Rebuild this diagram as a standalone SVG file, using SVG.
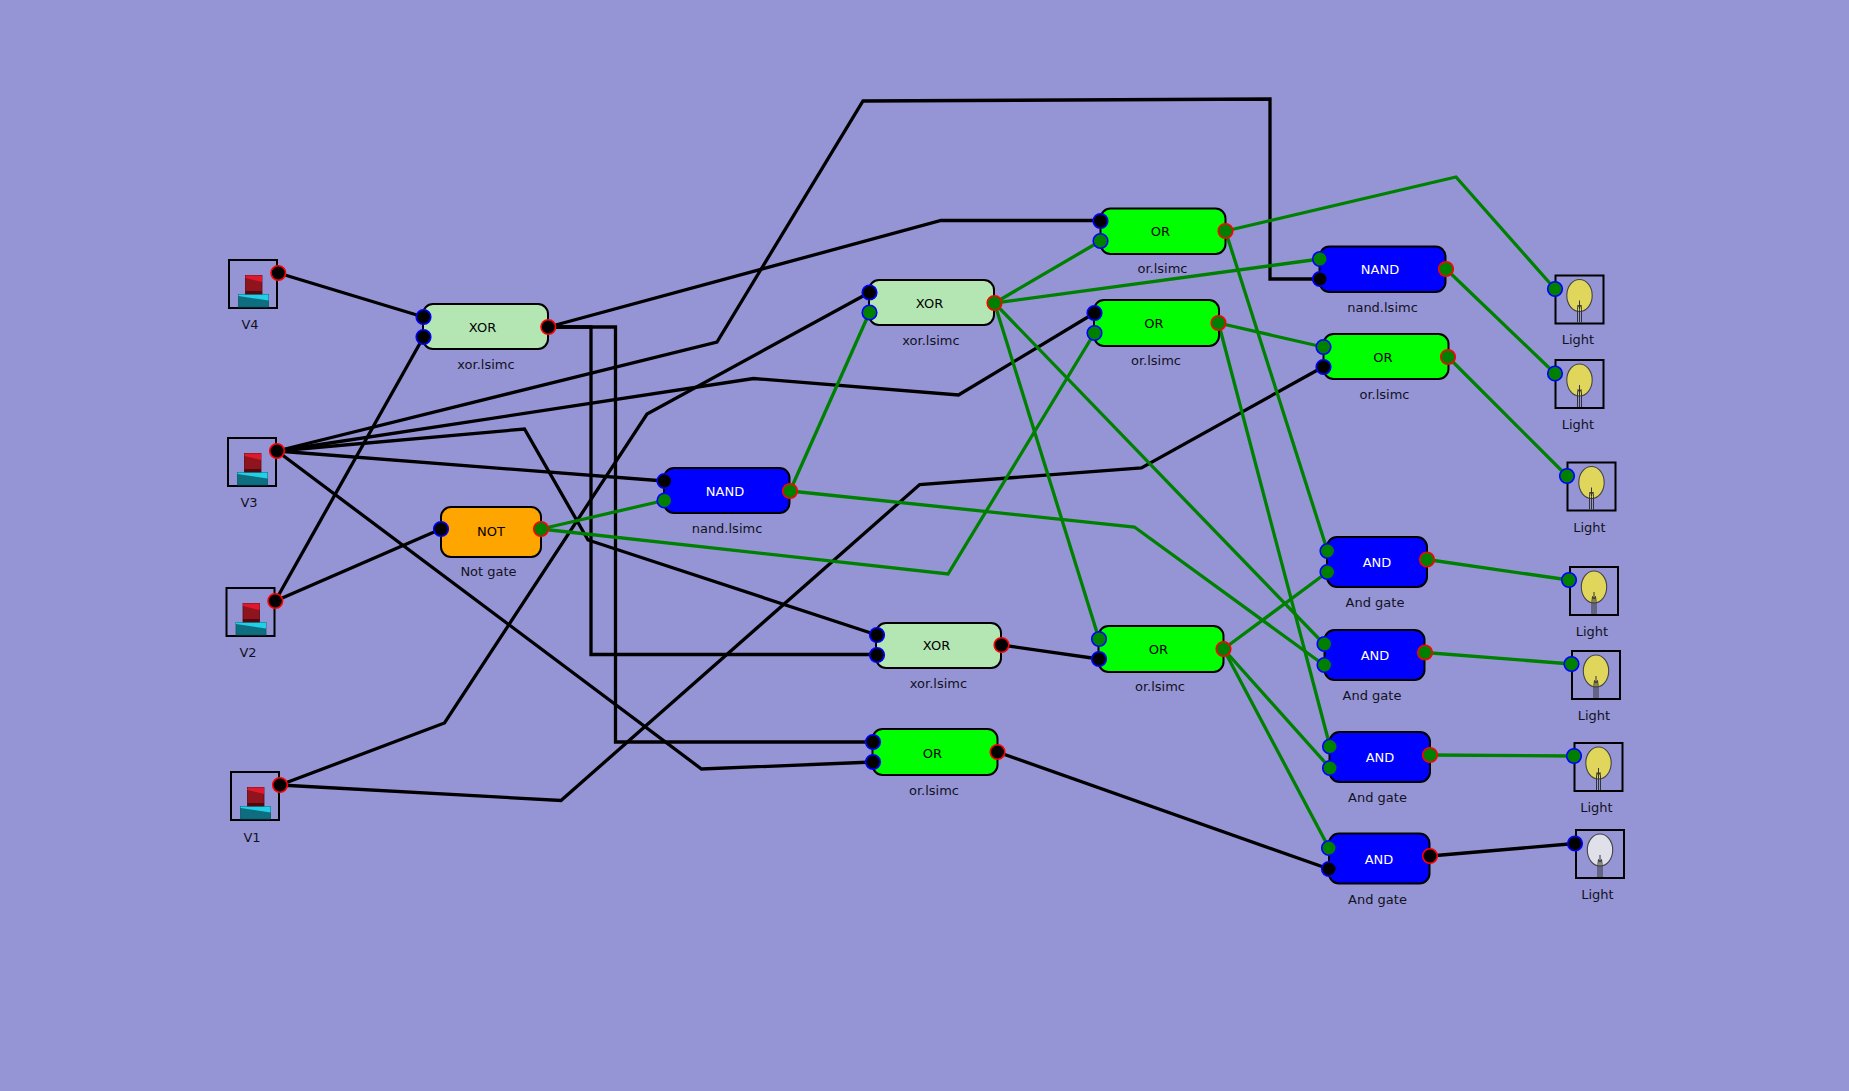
<svg xmlns="http://www.w3.org/2000/svg" width="1849" height="1091" viewBox="0 0 1849 1091">
<style>
text{font-family:"DejaVu Sans",sans-serif;font-size:13px;fill:#111122;text-anchor:middle}
.t{fill:#000}
.w{fill:#fff}
.wire{fill:none;stroke-width:3.3;stroke-linejoin:miter}
.b{stroke:#000}
.g{stroke:#008000}
.box{fill:none;stroke:#000;stroke-width:2}
.body{stroke:#000;stroke-width:2}
.pi{stroke:#0000ff;stroke-width:1.6}
.po{stroke:#ff0000;stroke-width:1.6}
.k{fill:#000}
.v{fill:#008000}
</style>
<defs>
<g id="src">
<rect class="box" x="0" y="0" width="48" height="48"/>
<rect x="9.5" y="34.5" width="30" height="12.5" fill="#0e6e80" stroke="#0a5a68" stroke-width="0.8"/>
<path d="M9.500 34.500H39.500V40.500L9.500 36Z" fill="#1fd0e8"/>
<rect x="16.500" y="15.500" width="16.500" height="18.500" fill="#8f141e" stroke="#5a0a10" stroke-width="0.8"/>
<path d="M16.500 15.500H33V22L16.500 18Z" fill="#e0182c"/>
<rect x="16.500" y="31" width="16.500" height="3" fill="#4a0a10"/>
</g>
<g id="bulbOn">
<rect class="box" x="0" y="0" width="48" height="48"/>
<ellipse cx="24" cy="20" rx="12.700" ry="16" fill="#e0d65c" stroke="#444" stroke-width="1.100"/>
<path d="M22 47V34M24 47V34M26 47V34M24 25V34M22 34L22.500 29.500L24 32L25.500 29.500L26 34" fill="none" stroke="#333" stroke-width="1"/>
</g>
<g id="bulbOff">
<rect class="box" x="0" y="0" width="48" height="48"/>
<ellipse cx="24" cy="20" rx="12.700" ry="16" fill="#e0e0ea" stroke="#444" stroke-width="1.100"/>
<path d="M22 47V34M24 47V34M26 47V34M24 25V34M22 34L22.500 29.500L24 32L25.500 29.500L26 34" fill="none" stroke="#333" stroke-width="1"/>
</g>
</defs>
<rect width="1849" height="1091" fill="#9595d5"/>
<g id="connectors">
<g class="wire b">
<path d="M278.300 273L423.500 317"/>
<path d="M275.300 601L423.500 337"/>
<path d="M275.300 601L441 529"/>
<path d="M277 451L664 481"/>
<path d="M277 451L524.500 429L588 540L877 635"/>
<path d="M277 451L701.500 769L873 762"/>
<path d="M277 451L717 342L863 101L1270 99V279H1320"/>
<path d="M277 451L753.500 378.500L958.500 395L1094.500 313"/>
<path d="M280 785L444.500 723L647 414L869.500 292.500"/>
<path d="M280 785L561 800.500L919.700 484.600L1141.400 468L1323 367"/>
<path d="M548.300 327L941 220.500H1100.500"/>
<path d="M548.300 327H591V654.500H877"/>
<path d="M548.300 327H615.500V742H873"/>
<path d="M1001.500 645L1099 659"/>
<path d="M997.500 752L1329 869"/>
<path d="M1430 856L1575 843.500"/>
</g>
<g class="wire g">
<path d="M541 529L664 500.500"/>
<path d="M541 529L948 574L1094.500 333"/>
<path d="M790 491L869.500 312.500"/>
<path d="M790 491L1134.400 527L1324 665"/>
<path d="M994.500 303L1100.500 241"/>
<path d="M994.500 303L1320 259"/>
<path d="M994.500 303L1099 639"/>
<path d="M994.500 303L1324 644"/>
<path d="M1225.500 231L1456 177L1555 289"/>
<path d="M1225.500 231L1327.500 551"/>
<path d="M1218.500 323L1323 347"/>
<path d="M1218.500 323L1330 746.500"/>
<path d="M1223.500 649L1327.500 572"/>
<path d="M1223.500 649L1330 768"/>
<path d="M1223.500 649L1329 848"/>
<path d="M1446 269L1555 373.500"/>
<path d="M1448 357L1567 476"/>
<path d="M1427 559.500L1569 580"/>
<path d="M1425 652.500L1571.500 664"/>
<path d="M1430 755L1574 756"/>
</g>
</g>
<g id="v4"><use href="#src" x="229" y="260"/><circle class="po k" cx="278.300" cy="273" r="7.300"/><text x="250" y="329">V4</text></g>
<g id="v3"><use href="#src" x="228" y="438"/><circle class="po k" cx="277" cy="451" r="7.300"/><text x="249" y="507">V3</text></g>
<g id="v2"><use href="#src" x="226.500" y="588"/><circle class="po k" cx="275.300" cy="601" r="7.300"/><text x="248" y="657">V2</text></g>
<g id="v1"><use href="#src" x="231" y="772"/><circle class="po k" cx="280" cy="785" r="7.300"/><text x="252" y="842">V1</text></g>
<g id="xor1"><rect class="body" x="423" y="304" width="125" height="45" rx="10" fill="#b4e6b4"/><circle class="pi k" cx="423.500" cy="317" r="7.300"/><circle class="pi k" cx="423.500" cy="337" r="7.300"/><circle class="po k" cx="548.300" cy="327" r="7.300"/><text class="t" x="482.500" y="332">XOR</text><text x="486" y="369">xor.lsimc</text></g>
<g id="not1"><rect class="body" x="441" y="507" width="100" height="50" rx="10" fill="#ffa500"/><circle class="pi k" cx="441" cy="529" r="7.300"/><circle class="po v" cx="541" cy="529" r="7.300"/><text class="t" x="491" y="536">NOT</text><text x="488.500" y="576">Not gate</text></g>
<g id="nand1"><rect class="body" x="664" y="468" width="125.500" height="45" rx="10" fill="#0000ff"/><circle class="pi k" cx="664.500" cy="481" r="7.300"/><circle class="pi v" cx="664.500" cy="500.500" r="7.300"/><circle class="po v" cx="790" cy="491" r="7.300"/><text class="t w" x="725" y="496">NAND</text><text x="727" y="533">nand.lsimc</text></g>
<g id="xor2"><rect class="body" x="869" y="280" width="125" height="45" rx="10" fill="#b4e6b4"/><circle class="pi k" cx="869.500" cy="292.500" r="7.300"/><circle class="pi v" cx="869.500" cy="312.500" r="7.300"/><circle class="po v" cx="994.500" cy="303" r="7.300"/><text class="t" x="929.500" y="308">XOR</text><text x="931" y="345">xor.lsimc</text></g>
<g id="xor3"><rect class="body" x="876" y="623" width="125" height="45" rx="10" fill="#b4e6b4"/><circle class="pi k" cx="877" cy="635" r="7.300"/><circle class="pi k" cx="877" cy="655" r="7.300"/><circle class="po k" cx="1001.500" cy="645" r="7.300"/><text class="t" x="936.500" y="650">XOR</text><text x="938.500" y="688">xor.lsimc</text></g>
<g id="or5"><rect class="body" x="872.500" y="729" width="125" height="46" rx="10" fill="#00ff00"/><circle class="pi k" cx="873" cy="742" r="7.300"/><circle class="pi k" cx="873" cy="762" r="7.300"/><circle class="po k" cx="997.500" cy="752" r="7.300"/><text class="t" x="932.500" y="758">OR</text><text x="934" y="795">or.lsimc</text></g>
<g id="or1"><rect class="body" x="1100.500" y="208.500" width="125" height="45.500" rx="10" fill="#00ff00"/><circle class="pi k" cx="1100.500" cy="221" r="7.300"/><circle class="pi v" cx="1100.500" cy="241" r="7.300"/><circle class="po v" cx="1225.500" cy="231" r="7.300"/><text class="t" x="1160.500" y="236">OR</text><text x="1162.500" y="273">or.lsimc</text></g>
<g id="or2"><rect class="body" x="1094" y="300" width="125" height="46" rx="10" fill="#00ff00"/><circle class="pi k" cx="1094.500" cy="313" r="7.300"/><circle class="pi v" cx="1094.500" cy="333" r="7.300"/><circle class="po v" cx="1218.500" cy="323" r="7.300"/><text class="t" x="1154" y="328">OR</text><text x="1156" y="365">or.lsimc</text></g>
<g id="or3"><rect class="body" x="1098.500" y="626" width="125" height="46" rx="10" fill="#00ff00"/><circle class="pi v" cx="1099" cy="639" r="7.300"/><circle class="pi k" cx="1099" cy="659" r="7.300"/><circle class="po v" cx="1223.500" cy="649" r="7.300"/><text class="t" x="1158.500" y="654">OR</text><text x="1160" y="691">or.lsimc</text></g>
<g id="nand2"><rect class="body" x="1319.500" y="246.500" width="126" height="45.500" rx="10" fill="#0000ff"/><circle class="pi v" cx="1320" cy="259" r="7.300"/><circle class="pi k" cx="1320" cy="279" r="7.300"/><circle class="po v" cx="1446" cy="269" r="7.300"/><text class="t w" x="1380" y="274">NAND</text><text x="1382.500" y="312">nand.lsimc</text></g>
<g id="or4"><rect class="body" x="1323.500" y="334" width="125" height="45" rx="10" fill="#00ff00"/><circle class="pi v" cx="1323.500" cy="347" r="7.300"/><circle class="pi k" cx="1323.500" cy="367" r="7.300"/><circle class="po v" cx="1448" cy="357" r="7.300"/><text class="t" x="1383" y="362">OR</text><text x="1384.500" y="399">or.lsimc</text></g>
<g id="and1"><rect class="body" x="1327" y="537" width="100" height="50" rx="10" fill="#0000ff"/><circle class="pi v" cx="1327.500" cy="551" r="7.300"/><circle class="pi v" cx="1327.500" cy="572" r="7.300"/><circle class="po v" cx="1427" cy="559.500" r="7.300"/><text class="t w" x="1377" y="567">AND</text><text x="1375" y="607">And gate</text></g>
<g id="and2"><rect class="body" x="1324.500" y="630" width="100" height="50" rx="10" fill="#0000ff"/><circle class="pi v" cx="1324.500" cy="644" r="7.300"/><circle class="pi v" cx="1324.500" cy="665" r="7.300"/><circle class="po v" cx="1425" cy="652.500" r="7.300"/><text class="t w" x="1375" y="660">AND</text><text x="1372" y="700">And gate</text></g>
<g id="and3"><rect class="body" x="1329.500" y="732" width="100.500" height="50" rx="10" fill="#0000ff"/><circle class="pi v" cx="1330" cy="746.500" r="7.300"/><circle class="pi v" cx="1330" cy="768" r="7.300"/><circle class="po v" cx="1430" cy="755" r="7.300"/><text class="t w" x="1380" y="762">AND</text><text x="1377.500" y="802">And gate</text></g>
<g id="and4"><rect class="body" x="1329" y="833.500" width="100.500" height="50" rx="10" fill="#0000ff"/><circle class="pi v" cx="1329" cy="848" r="7.300"/><circle class="pi k" cx="1329" cy="869" r="7.300"/><circle class="po k" cx="1430" cy="856" r="7.300"/><text class="t w" x="1379" y="864">AND</text><text x="1377.500" y="904">And gate</text></g>
<g id="light1"><use href="#bulbOn" x="1555.500" y="275.500"/><circle class="pi v" cx="1555" cy="289" r="7.300"/><text x="1578" y="344">Light</text></g>
<g id="light2"><use href="#bulbOn" x="1555.500" y="360"/><circle class="pi v" cx="1555" cy="373.500" r="7.300"/><text x="1578" y="429">Light</text></g>
<g id="light3"><use href="#bulbOn" x="1567.500" y="462.500"/><circle class="pi v" cx="1567" cy="476" r="7.300"/><text x="1589.500" y="532">Light</text></g>
<g id="light4"><use href="#bulbOn" x="1570" y="567"/><circle class="pi v" cx="1569" cy="580" r="7.300"/><text x="1592" y="636">Light</text></g>
<g id="light5"><use href="#bulbOn" x="1572" y="651"/><circle class="pi v" cx="1571.500" cy="664" r="7.300"/><text x="1594" y="720">Light</text></g>
<g id="light6"><use href="#bulbOn" x="1574.500" y="743"/><circle class="pi v" cx="1574" cy="756" r="7.300"/><text x="1596.500" y="812">Light</text></g>
<g id="light7"><use href="#bulbOff" x="1576" y="830"/><circle class="pi k" cx="1575" cy="843.500" r="7.300"/><text x="1597.500" y="899">Light</text></g>
</svg>
